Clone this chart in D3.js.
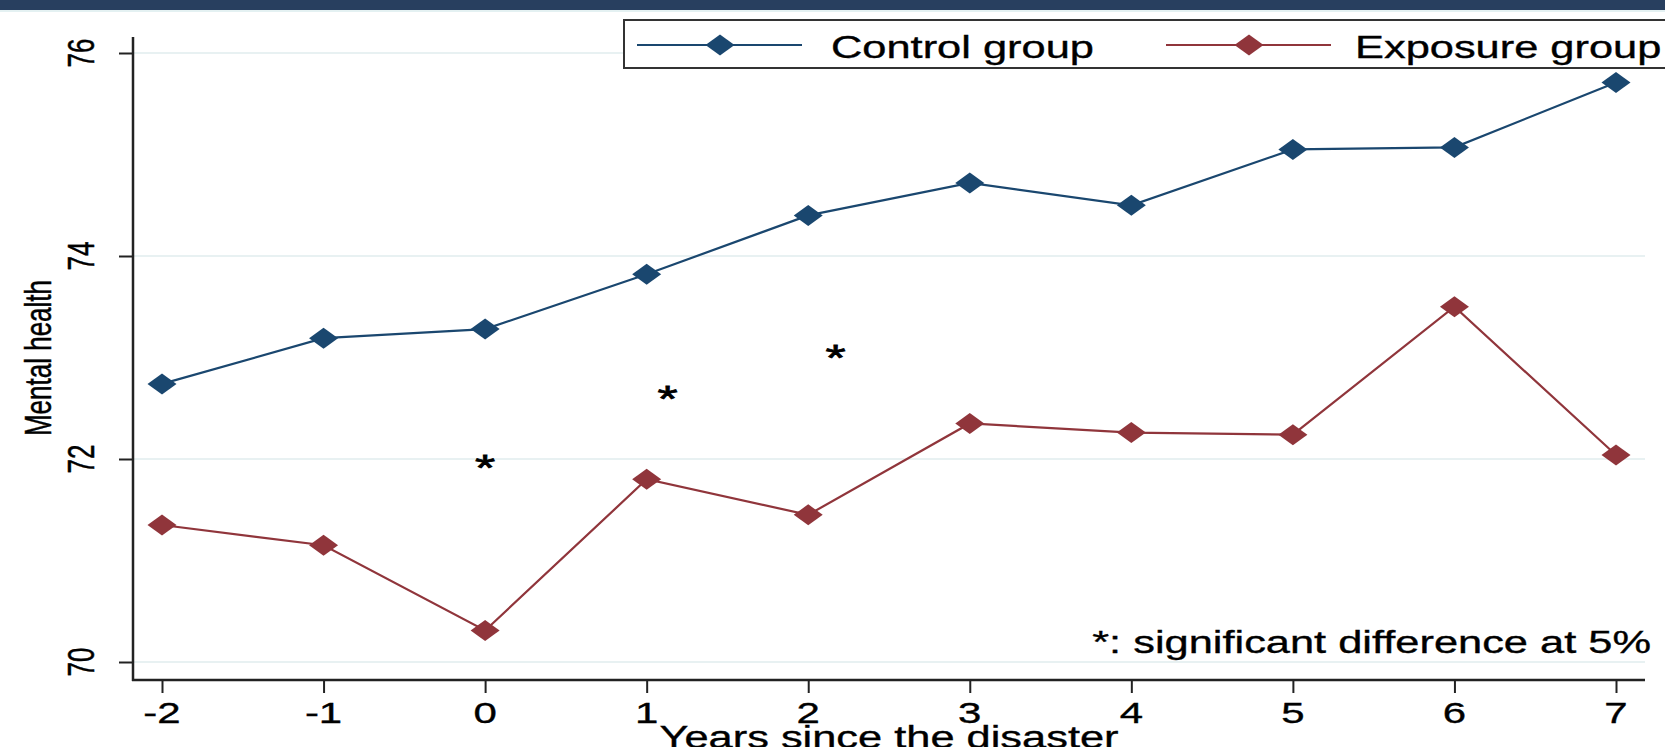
<!DOCTYPE html>
<html>
<head>
<meta charset="utf-8">
<script src="https://cdn.jsdelivr.net/npm/d3@7"></script>
<style>
  body { margin: 0; background: #fff; }
  text { font-family: "Liberation Sans", Arial, sans-serif; fill: #000; stroke: #000; stroke-width: 0.35px; }
</style>
</head>
<body>
<script>
var w = 1665;
var h = 747;
var sx = 1.4; // text in the picture is stretched sideways

var years = [-2, -1, 0, 1, 2, 3, 4, 5, 6, 7];
var controlGroup = [72.74, 73.19, 73.28, 73.82, 74.40, 74.72, 74.50, 75.05, 75.07, 75.71];
var exposureGroup = [71.35, 71.15, 70.31, 71.80, 71.45, 72.35, 72.26, 72.24, 73.50, 72.04];
var yTicks = [70, 72, 74, 76];
var starYears = [0, 1.13, 2.17];   // where the "*" marks sit
var starValues = [71.99, 72.67, 73.07];

var svg = d3.select("body")
            .append("svg")
            .attr("width", w)
            .attr("height", h);

// top band
svg.append("rect").attr("x", 0).attr("y", 0).attr("width", w).attr("height", 10).attr("fill", "#283f5f");
svg.append("rect").attr("x", 0).attr("y", 10).attr("width", w).attr("height", 2).attr("fill", "#e4f1f2");

var x = d3.scaleLinear().domain([-2, 7]).range([162, 1616]);
var y = d3.scaleLinear().domain([70, 76]).range([662, 53]);

// grid lines
svg.selectAll("line.grid")
    .data(yTicks)
    .enter()
    .append("line")
    .attr("class", "grid")
    .attr("x1", 134).attr("x2", 1645)
    .attr("y1", function(d){ return y(d); })
    .attr("y2", function(d){ return y(d); })
    .attr("stroke", "#e8f1f2")
    .attr("stroke-width", 2);

// axes
var yAxis = svg.append("g").attr("transform", "translate(133,0)")
    .call(d3.axisLeft(y).tickValues(yTicks).tickSize(14).tickFormat(""));
var xAxis = svg.append("g").attr("transform", "translate(0,680)")
    .call(d3.axisBottom(x).tickValues(years).tickSize(13).tickFormat(""));
yAxis.select(".domain").remove();
xAxis.select(".domain").remove();
svg.selectAll(".tick line").attr("stroke", "#222").attr("stroke-width", 2);
svg.append("line").attr("x1", 133).attr("x2", 133).attr("y1", 37).attr("y2", 681)
    .attr("stroke", "#222").attr("stroke-width", 2.5);
svg.append("line").attr("x1", 132).attr("x2", 1645).attr("y1", 680).attr("y2", 680)
    .attr("stroke", "#222").attr("stroke-width", 2.5);

// tick labels
svg.selectAll("text.ylab")
    .data(yTicks)
    .enter()
    .append("text")
    .attr("class", "ylab")
    .attr("transform", function(d){ return "translate(94," + y(d) + ") scale(" + sx + ",1) rotate(-90)"; })
    .attr("text-anchor", "middle")
    .style("font-size", "26px")
    .text(function(d){ return d; });

svg.selectAll("text.xlab")
    .data(years)
    .enter()
    .append("text")
    .attr("class", "xlab")
    .attr("transform", function(d){ return "translate(" + x(d) + ",723) scale(" + sx + ",1)"; })
    .attr("text-anchor", "middle")
    .style("font-size", "30px")
    .text(function(d){ return d; });

// axis titles
svg.append("text")
    .attr("transform", "translate(51,358) scale(" + sx + ",1) rotate(-90)")
    .attr("text-anchor", "middle")
    .style("font-size", "26px")
    .text("Mental health");

svg.append("text")
    .attr("transform", "translate(889,748) scale(" + sx + ",1)")
    .attr("text-anchor", "middle")
    .style("font-size", "31px")
    .text("Years since the disaster");

svg.append("text")
    .attr("transform", "translate(1651,653) scale(" + sx + ",1)")
    .attr("text-anchor", "end")
    .style("font-size", "31px")
    .text("*: significant difference at 5%");

// series
var series = [
    { name: "Control group", values: controlGroup, color: "#1a476f" },
    { name: "Exposure group", values: exposureGroup, color: "#90353b" }
];

function diamond(cx, cy) {
    return "M" + (cx - 14.5) + "," + cy + "L" + cx + "," + (cy - 10.5) +
           "L" + (cx + 14.5) + "," + cy + "L" + cx + "," + (cy + 10.5) + "Z";
}

var line = d3.line()
    .x(function(d, i){ return x(years[i]); })
    .y(function(d){ return y(d); });

series.forEach(function(s){
    svg.append("path")
        .attr("d", line(s.values))
        .attr("fill", "none")
        .attr("stroke", s.color)
        .attr("stroke-width", 2.2);
    svg.selectAll(null)
        .data(s.values)
        .enter()
        .append("path")
        .attr("d", function(d, i){ return diamond(x(years[i]), y(d)); })
        .attr("fill", s.color);
});

// significance stars
svg.selectAll("text.star")
    .data(starValues)
    .enter()
    .append("text")
    .attr("class", "star")
    .attr("transform", function(d, i){ return "translate(" + x(starYears[i]) + "," + (y(d) + 21) + ") scale(" + sx + ",1)"; })
    .attr("text-anchor", "middle")
    .style("font-size", "37px")
    .style("stroke-width", "0.8px")
    .text("*");

// legend
var legend = svg.append("g");
legend.append("rect")
    .attr("x", 624).attr("y", 20).attr("width", 1060).attr("height", 48)
    .attr("fill", "#fff").attr("stroke", "#333").attr("stroke-width", 2);

var legendX = [637, 1166];
var legendTextX = [831, 1355];
series.forEach(function(s, i){
    legend.append("line")
        .attr("x1", legendX[i]).attr("x2", legendX[i] + 165)
        .attr("y1", 45).attr("y2", 45)
        .attr("stroke", s.color).attr("stroke-width", 2.2);
    legend.append("path")
        .attr("d", diamond(legendX[i] + 83, 45))
        .attr("fill", s.color);
    legend.append("text")
        .attr("transform", "translate(" + legendTextX[i] + ",58) scale(" + sx + ",1)")
        .style("font-size", "31px")
        .text(s.name);
});
</script>
</body>
</html>
